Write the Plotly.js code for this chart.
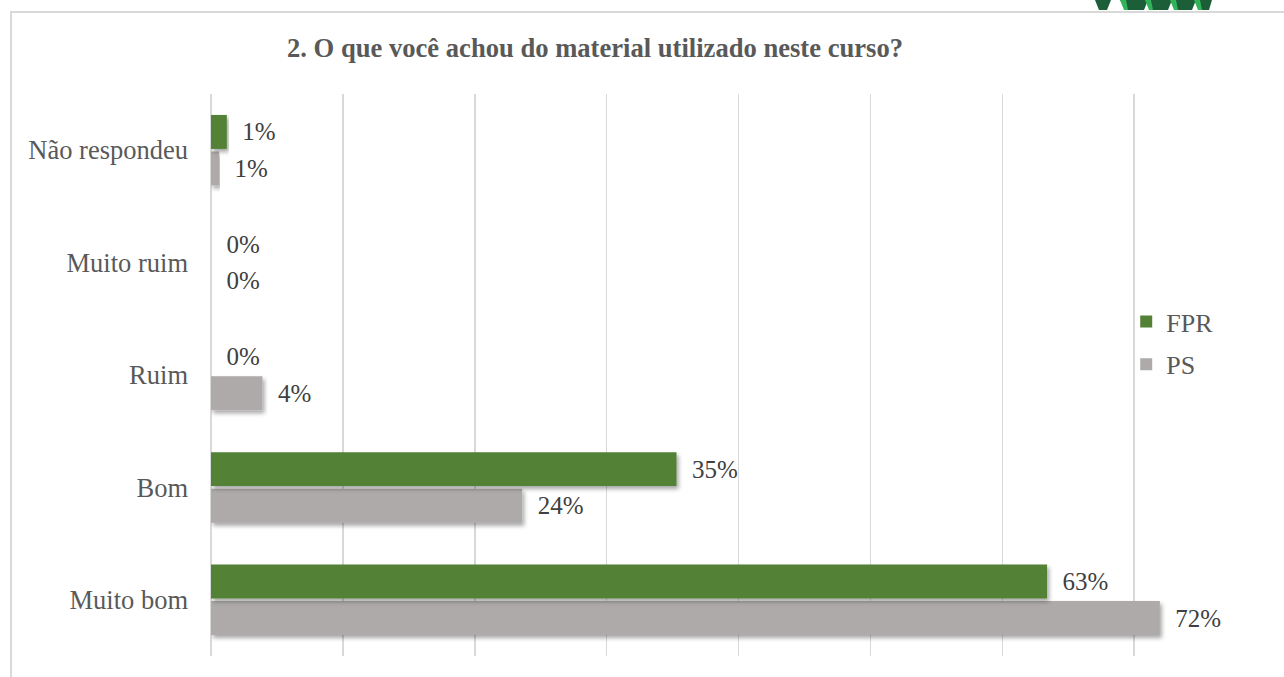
<!DOCTYPE html>
<html>
<head>
<meta charset="utf-8">
<script src="https://cdn.plot.ly/plotly-3.0.1.min.js"></script>
<style>
  html, body { margin: 0; padding: 0; background: #ffffff; overflow: hidden; }
  #wrap { position: relative; width: 1284px; height: 677px; }
  #chart { position: absolute; left: 0; top: 0; width: 1284px; height: 677px; }
  #frame { position: absolute; left: 10px; top: 11px; width: 1300px; height: 700px;
           border-left: 2px solid #d9d9d9; border-top: 2px solid #d9d9d9; pointer-events: none; }
  #logo { position: absolute; left: 1095px; top: 0; pointer-events: none; }
  .bars .point path { filter: url(#barshadow); }
</style>
</head>
<body>
<svg width="0" height="0" style="position:absolute">
  <defs>
    <filter id="barshadow" x="-5%" y="-20%" width="115%" height="160%">
      <feDropShadow dx="2" dy="3" stdDeviation="2" flood-color="#000" flood-opacity="0.35"/>
    </filter>
  </defs>
</svg>
<div id="wrap">
  <div id="chart"></div>
  <div id="frame"></div>
  <svg id="logo" width="130" height="12">
    <polygon points="0,0 16,0 12,10 4,10" fill="#1b5e37"/>
    <polygon points="25,0 53,0 49,10 31,10" fill="#1b5e37"/>
    <polygon points="25,0 31,0 33,10 29,10" fill="#2fb457"/>
    <polygon points="50,0 77,0 73,10 56,10" fill="#1b5e37"/>
    <polygon points="50,0 56,0 58,10 54,10" fill="#2fb457"/>
    <polygon points="75,0 101,0 97,10 81,10" fill="#1b5e37"/>
    <polygon points="75,0 81,0 83,10 79,10" fill="#2fb457"/>
    <polygon points="99,0 117,0 114,10 105,10" fill="#1b5e37"/>
    <polygon points="99,0 105,0 107,10 103,10" fill="#2fb457"/>
  </svg>
</div>
<script>
const categories = ["Muito bom", "Bom", "Ruim", "Muito ruim", "Não respondeu"];
const fprValues = [0.634, 0.353, 0, 0, 0.012];
const psValues  = [0.7195, 0.236, 0.039, 0, 0.006];
const seriesNames = ["FPR", "PS"];
const tickValuesX = [0, 0.1, 0.2, 0.3, 0.4, 0.5, 0.6, 0.7, 0.8];

const FONT = 'Liberation Serif, Times New Roman, serif';
const labelTemplate = '\u00a0\u00a0%{x:.0%}';

const traces = [
  {
    type: 'bar', orientation: 'h', name: seriesNames[1],
    y: categories, x: psValues,
    marker: { color: '#aeaaaa' },
    texttemplate: labelTemplate, textposition: 'outside', cliponaxis: false,
    textfont: { family: FONT, size: 25, color: '#404040' },
    hoverinfo: 'skip', legendgroup: 'ps', legendrank: 2
  },
  {
    type: 'bar', orientation: 'h', name: seriesNames[0],
    y: categories, x: fprValues,
    marker: { color: '#538135' },
    texttemplate: labelTemplate, textposition: 'outside', cliponaxis: false,
    textfont: { family: FONT, size: 25, color: '#404040' },
    hoverinfo: 'skip', legendgroup: 'fpr', legendrank: 1
  }
];

const layout = {
  width: 1284, height: 677,
  margin: { l: 211, r: 18, t: 94, b: 21 },
  paper_bgcolor: 'rgba(0,0,0,0)', plot_bgcolor: 'rgba(0,0,0,0)',
  font: { family: FONT, size: 26, color: '#595959' },
  barmode: 'group', bargap: 0.35, bargroupgap: 0.07,
  title: {
    text: '<b>2. O que você achou do material utilizado neste curso?</b>',
    font: { family: FONT, size: 26.6, color: '#595959' },
    xref: 'container', yref: 'container', x: 0.4634, xanchor: 'center',
    y: 1 - 48 / 677, yanchor: 'middle'
  },
  xaxis: {
    range: [0, 0.8], tickvals: tickValuesX, showticklabels: false,
    showgrid: true, gridcolor: '#d9d9d9', gridwidth: 1.5,
    zeroline: true, zerolinecolor: '#d9d9d9', zerolinewidth: 1.5,
    showline: false, ticks: ''
  },
  yaxis: {
    type: 'category', categoryorder: 'array', categoryarray: categories,
    showgrid: false, zeroline: false, showline: false, ticks: '',
    ticklabelstandoff: 22,
    tickfont: { family: FONT, size: 26.5, color: '#595959' }
  },
  showlegend: true,
  legend: {
    x: 0.8675, xanchor: 'left', y: 0.637, yanchor: 'top',
    traceorder: 'grouped', tracegroupgap: 6,
    bgcolor: 'rgba(0,0,0,0)',
    font: { family: FONT, size: 26, color: '#595959' },
    itemclick: false, itemdoubleclick: false
  }
};

Plotly.newPlot('chart', traces, layout, { displayModeBar: false, staticPlot: true });
</script>
</body>
</html>
